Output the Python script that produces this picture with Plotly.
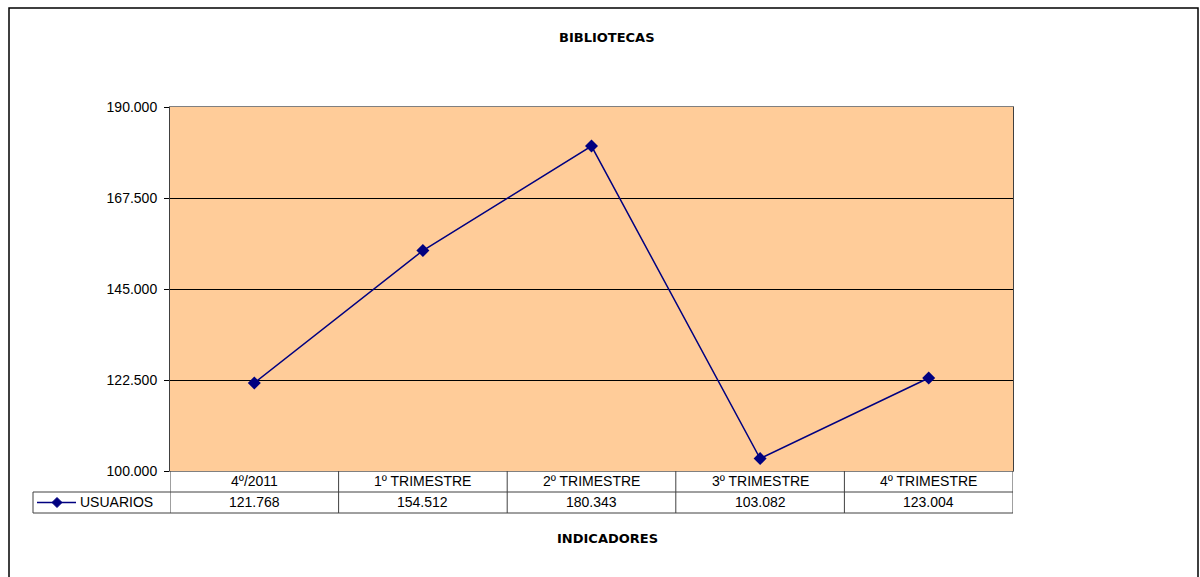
import plotly.graph_objects as go

categories = ["4º/2011", "1º TRIMESTRE", "2º TRIMESTRE", "3º TRIMESTRE", "4º TRIMESTRE"]
usuarios = [121768, 154512, 180343, 103082, 123004]
value_labels = ["121.768", "154.512", "180.343", "103.082", "123.004"]
series_name = "USUARIOS"
y_ticks = [100000, 122500, 145000, 167500, 190000]

W, H = 1200, 577
L, R, T, B = 170, 1013, 107, 471
pw, ph = R - L, B - T

def px(x):
    return (x - L) / pw

def py(y):
    return (B - y) / ph

fig = go.Figure()
fig.add_trace(go.Scatter(
    x=list(range(len(categories))), y=usuarios, mode="lines+markers",
    line=dict(color="#000080", width=1.5),
    marker=dict(symbol="diamond", size=10, color="#000080"),
    name=series_name, showlegend=False, cliponaxis=False,
))

font = "Liberation Sans, Arial, sans-serif"
bold_font = "DejaVu Sans, Arial, sans-serif"
shapes = []
annotations = []

# outer chart border
shapes.append(dict(type="rect", xref="paper", yref="paper",
                   x0=px(9), x1=px(1198), y0=py(8), y1=py(590),
                   line=dict(color="black", width=1.5)))

# table rows
row1_top, row1_bot, row2_bot = 471, 492, 513
line_c = dict(color="#404040", width=1)
shapes.append(dict(type="line", xref="paper", yref="paper", x0=px(33), x1=px(R),
                   y0=py(row1_bot), y1=py(row1_bot), line=line_c))
shapes.append(dict(type="line", xref="paper", yref="paper", x0=px(33), x1=px(R),
                   y0=py(row2_bot), y1=py(row2_bot), line=line_c))
shapes.append(dict(type="line", xref="paper", yref="paper", x0=px(33), x1=px(33),
                   y0=py(row1_bot), y1=py(row2_bot), line=line_c))
for i in range(len(categories) + 1):
    xb = i - 0.5
    shapes.append(dict(type="line", xref="x", yref="paper", x0=xb, x1=xb,
                       y0=py(row1_top), y1=py(row2_bot), line=line_c))

for i, (c, v) in enumerate(zip(categories, value_labels)):
    annotations.append(dict(x=i, y=py((row1_top + row1_bot) / 2), xref="x", yref="paper",
                            xanchor="center", yanchor="middle",
                            text=c, showarrow=False, font=dict(size=14, color="black", family=font)))
    annotations.append(dict(x=i, y=py((row1_bot + row2_bot) / 2), xref="x", yref="paper",
                            xanchor="center", yanchor="middle",
                            text=v, showarrow=False, font=dict(size=14, color="black", family=font)))

# legend key in table
ly = py((row1_bot + row2_bot) / 2)
shapes.append(dict(type="line", xref="paper", yref="paper", x0=px(37), x1=px(76),
                   y0=ly, y1=ly, line=dict(color="#000080", width=1.5)))
shapes.append(dict(type="path", xref="paper", yref="paper", xsizemode="pixel", ysizemode="pixel",
                   xanchor=px(57), yanchor=ly,
                   path="M -5 0 L 0 5 L 5 0 L 0 -5 Z",
                   fillcolor="#000080", line=dict(color="#000080", width=1)))
annotations.append(dict(x=px(78), y=ly, xref="paper", yref="paper", xanchor="left", yanchor="middle",
                        text=series_name, showarrow=False,
                        font=dict(size=14, color="black", family=font)))

# titles
annotations.append(dict(x=px(607), y=py(37), xref="paper", yref="paper", text="<b>BIBLIOTECAS</b>",
                        xanchor="center", yanchor="middle",
                        showarrow=False, font=dict(size=13, color="black", family=bold_font)))
annotations.append(dict(x=px(607), y=py(538), xref="paper", yref="paper", text="<b>INDICADORES</b>",
                        xanchor="center", yanchor="middle",
                        showarrow=False, font=dict(size=13, color="black", family=bold_font)))

fig.update_layout(
    width=W, height=H,
    margin=dict(l=L, r=W - R, t=T, b=H - B, pad=0),
    paper_bgcolor="white", plot_bgcolor="#FFCC99",
    separators=",.",
    shapes=shapes, annotations=annotations,
    font=dict(family=font, color="black", size=14),
    xaxis=dict(range=[-0.5, len(categories) - 0.5], showticklabels=False, showgrid=False,
               zeroline=False, showline=True, linecolor="#808080", linewidth=1, mirror=True,
               fixedrange=True),
    yaxis=dict(range=[y_ticks[0], y_ticks[-1]], tickvals=y_ticks, tickformat=",.0f",
               showgrid=True, gridcolor="black", gridwidth=1, zeroline=False,
               ticks="outside", ticklen=5, tickcolor="black", ticklabelstandoff=4,
               showline=True, linecolor="#404040", linewidth=1, mirror=True,
               tickfont=dict(size=14, family=font), fixedrange=True),
)

fig.write_html(
    "out.html",
    config={"displayModeBar": False},
    post_script="document.body.style.margin='0';document.body.style.overflow='hidden';",
)
